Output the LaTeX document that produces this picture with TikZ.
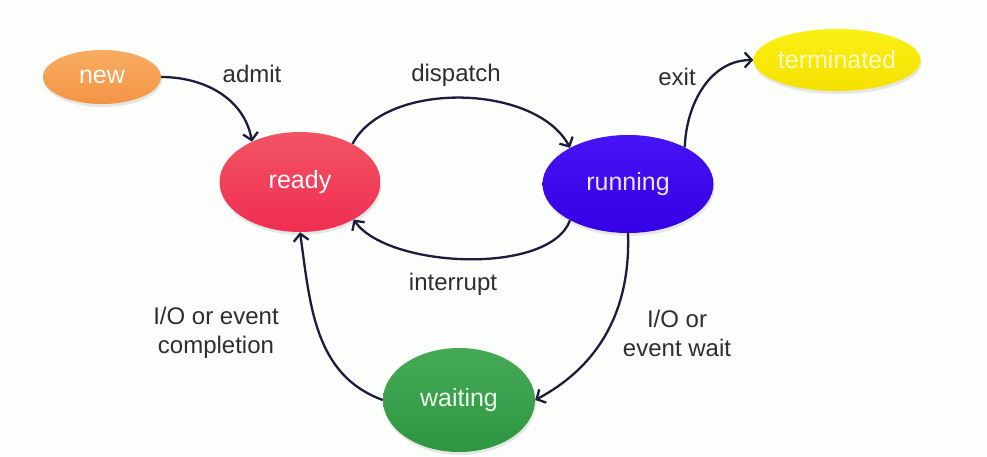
\documentclass[tikz,border=0pt]{standalone}
\usepackage{fontspec}
\setmainfont{Liberation Sans}
\usetikzlibrary{arrows.meta,shapes.geometric,shadows}
\definecolor{bgc}{HTML}{FCFEFC}
\definecolor{linec}{HTML}{1E1C3C}
\definecolor{labc}{HTML}{2E2E2E}
\tikzset{
  state/.style={ellipse, inner sep=0pt, font=\fontsize{25}{29}\selectfont,
    drop shadow={opacity=0.18, shadow xshift=1pt, shadow yshift=-3pt}},
  conn/.style={draw=linec, line width=2.3pt,
    -{Straight Barb[length=7pt,width=15pt,line width=2.3pt]}},
  lab/.style={text=labc, font=\fontsize{24}{29}\selectfont, align=center},
}
\begin{document}
\begin{tikzpicture}[x=1pt,y=-1pt]
\fill[bgc] (0,0) rectangle (987,456);
\useasboundingbox (0,0) rectangle (987,456);

\node[state, minimum width=118pt, minimum height=54pt,
  top color={rgb,255:red,248;green,172;blue,98}, bottom color={rgb,255:red,243;green,148;blue,68},
  text=white] (new) at (102,77) {new};
\node[state, minimum width=161pt, minimum height=100pt,
  top color={rgb,255:red,242;green,84;blue,100}, bottom color={rgb,255:red,240;green,45;blue,82},
  text=white] (ready) at (300,182) {ready};
\node[state, minimum width=171pt, minimum height=98pt,
  top color={rgb,255:red,70;green,20;blue,245}, bottom color={rgb,255:red,52;green,0;blue,228},
  text={rgb,255:red,240;green,225;blue,255}] (running) at (628,184) {running};
\node[state, minimum width=162pt, minimum height=62pt,
  top color={rgb,255:red,250;green,240;blue,20}, bottom color={rgb,255:red,245;green,225;blue,0},
  text={rgb,255:red,255;green,250;blue,200}] (term) at (837,60) {terminated};
\node[state, minimum width=152pt, minimum height=104pt,
  top color={rgb,255:red,70;green,170;blue,85}, bottom color={rgb,255:red,45;green,150;blue,65},
  text={rgb,255:red,235;green,255;blue,235}] (wait) at (459,400) {waiting};

\draw[conn] (new.east) to[out=0,in=100] (ready.140);
\draw[conn] (ready.36) to[out=62,in=118,looseness=0.85] (running.148);
\draw[conn] (running.212) to[out=-110,in=-55,looseness=0.7] (ready.325);
\draw[conn] (running.33) to[out=88,in=180] (term.west);
\draw[conn] (running.south) to[out=-88,in=28] (wait.east);
\draw[conn] (wait.west) to[out=160,in=-82] (ready.south);

\node[lab] (ladmit) at (252,74) {admit};
\node[lab] (ldisp) at (456,75) {dispatch};
\node[lab] (lexit) at (677,77) {exit};
\node[lab] (lint) at (453,284) {interrupt};
\node[lab] (lcomp) at (216,333) {I/O or event\\completion};
\node[lab] (lwait) at (677,333) {I/O or\\event wait};
\end{tikzpicture}
\end{document}
